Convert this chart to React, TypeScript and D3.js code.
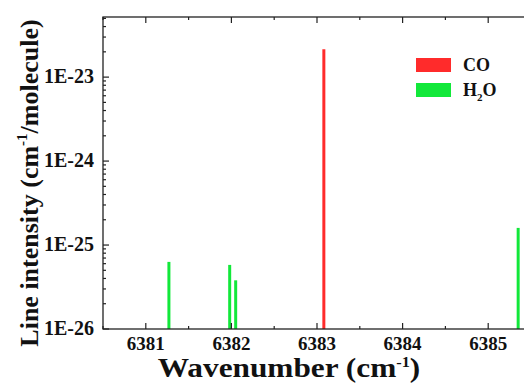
import React, { useRef, useEffect } from "react";
import { select, scaleLinear, scaleLog, range } from "d3";

// line positions (cm-1) and intensities (cm-1/molecule)
const coLines = [6383.08];
const coIntensity = [2.15e-23];
const h2oLines = [6381.27, 6381.98, 6382.05, 6385.35];
const h2oIntensity = [6.3e-26, 5.8e-26, 3.8e-26, 1.6e-25];
const xTicks = [6381, 6382, 6383, 6384, 6385];
const yTicks = [1e-26, 1e-25, 1e-24, 1e-23];
const yTickLabels = ["1E-26", "1E-25", "1E-24", "1E-23"];

const App = () => {
    const svgRef = useRef(null);
    const width = 524;
    const height = 383;
    const margin = { top: 17, left: 103, bottom: 329, right: 531 };

    useEffect(() => {
        const svg = select(svgRef.current);
        svg.selectAll("*").remove();

        const xScale = scaleLinear().domain([6380.5, 6385.5]).range([margin.left, margin.right]);
        const yScale = scaleLog().domain([1e-26, 5.2e-23]).range([margin.bottom, margin.top]);
        const font = "Liberation Serif, serif";
        const red = "#ff2b2b";
        const green = "#12e83a";

        // bars
        const bars = [];
        for (let i = 0; i < coLines.length; i++) bars.push({ x: coLines[i], y: coIntensity[i], c: red });
        for (let i = 0; i < h2oLines.length; i++) bars.push({ x: h2oLines[i], y: h2oIntensity[i], c: green });
        svg.selectAll(".bar").data(bars).enter().append("line")
            .attr("x1", d => xScale(d.x)).attr("x2", d => xScale(d.x))
            .attr("y1", yScale(1e-26)).attr("y2", d => yScale(d.y))
            .attr("stroke", d => d.c).attr("stroke-width", 3);

        // frame
        svg.append("rect")
            .attr("x", margin.left).attr("y", margin.top)
            .attr("width", margin.right - margin.left).attr("height", margin.bottom - margin.top)
            .attr("fill", "none").attr("stroke", "#222").attr("stroke-width", 1.3);

        // x ticks, bottom and top, pointing inward
        const xMinor = range(6380.5, 6385.6, 0.5).filter(v => !xTicks.includes(v));
        const g = svg.append("g").attr("stroke", "#222").attr("stroke-width", 1.2);
        xTicks.forEach(v => {
            g.append("line").attr("x1", xScale(v)).attr("x2", xScale(v)).attr("y1", margin.bottom).attr("y2", margin.bottom - 6);
            g.append("line").attr("x1", xScale(v)).attr("x2", xScale(v)).attr("y1", margin.top).attr("y2", margin.top + 6);
        });
        xMinor.forEach(v => {
            g.append("line").attr("x1", xScale(v)).attr("x2", xScale(v)).attr("y1", margin.bottom).attr("y2", margin.bottom - 3);
            g.append("line").attr("x1", xScale(v)).attr("x2", xScale(v)).attr("y1", margin.top).attr("y2", margin.top + 3);
        });

        // y ticks (log, with minor 2..9)
        const yMinor = [];
        [1e-26, 1e-25, 1e-24, 1e-23].forEach(d => {
            for (let k = 2; k <= 9; k++) {
                const v = d * k;
                if (v <= 5.2e-23) yMinor.push(v);
            }
        });
        yTicks.forEach(v => {
            g.append("line").attr("x1", margin.left).attr("x2", margin.left + 6).attr("y1", yScale(v)).attr("y2", yScale(v));
        });
        yMinor.forEach(v => {
            g.append("line").attr("x1", margin.left).attr("x2", margin.left + 3).attr("y1", yScale(v)).attr("y2", yScale(v));
        });

        // tick labels
        svg.selectAll(".xl").data(xTicks).enter().append("text")
            .attr("x", d => xScale(d)).attr("y", margin.bottom + 21)
            .attr("text-anchor", "middle").style("font-family", font).attr("font-weight", "bold")
            .attr("font-size", 19).attr("fill", "#111").text(d => d);
        svg.selectAll(".yl").data(yTicks).enter().append("text")
            .attr("x", margin.left - 9).attr("y", d => yScale(d) + 6)
            .attr("text-anchor", "end").style("font-family", font).attr("font-weight", "bold")
            .attr("font-size", 20).attr("fill", "#111").text((d, i) => yTickLabels[i]);

        // axis titles
        const xt = svg.append("text").attr("transform", "translate(289,377) scale(1.16,1)")
            .attr("text-anchor", "middle").style("font-family", font).attr("font-weight", "bold")
            .attr("font-size", 27).attr("fill", "#111");
        xt.append("tspan").text("Wavenumber (cm");
        xt.append("tspan").attr("font-size", 14).attr("dy", -10).text("-1");
        xt.append("tspan").attr("dy", 10).text(")");

        const yt = svg.append("text").attr("transform", "translate(38,183) rotate(-90)")
            .attr("text-anchor", "middle").style("font-family", font).attr("font-weight", "bold")
            .attr("font-size", 26).attr("fill", "#111");
        yt.append("tspan").text("Line intensity (cm");
        yt.append("tspan").attr("font-size", 15).attr("dy", -11).text("-1");
        yt.append("tspan").attr("dy", 11).text("/molecule)");

        // legend
        const legend = [{ c: red, t: "CO" }, { c: green, t: "H2O" }];
        legend.forEach((d, i) => {
            const y = 58 + i * 25;
            svg.append("rect").attr("x", 416).attr("y", y).attr("width", 35).attr("height", 14).attr("fill", d.c);
            const t = svg.append("text").attr("x", 463).attr("y", y + 13)
                .style("font-family", font).attr("font-weight", "bold").attr("font-size", 18).attr("fill", "#111");
            if (d.t === "H2O") {
                t.append("tspan").text("H");
                t.append("tspan").attr("font-size", 11).attr("dy", 5).text("2");
                t.append("tspan").attr("dy", -5).text("O");
            } else {
                t.text(d.t);
            }
        });
    }, []);

    return (
        <div style={{ position: "absolute", left: 0, top: 0, width: width, height: height, overflow: "hidden", background: "#fff" }}>
            <svg ref={svgRef} width={width} height={height}></svg>
        </div>
    );
};

export default App;
